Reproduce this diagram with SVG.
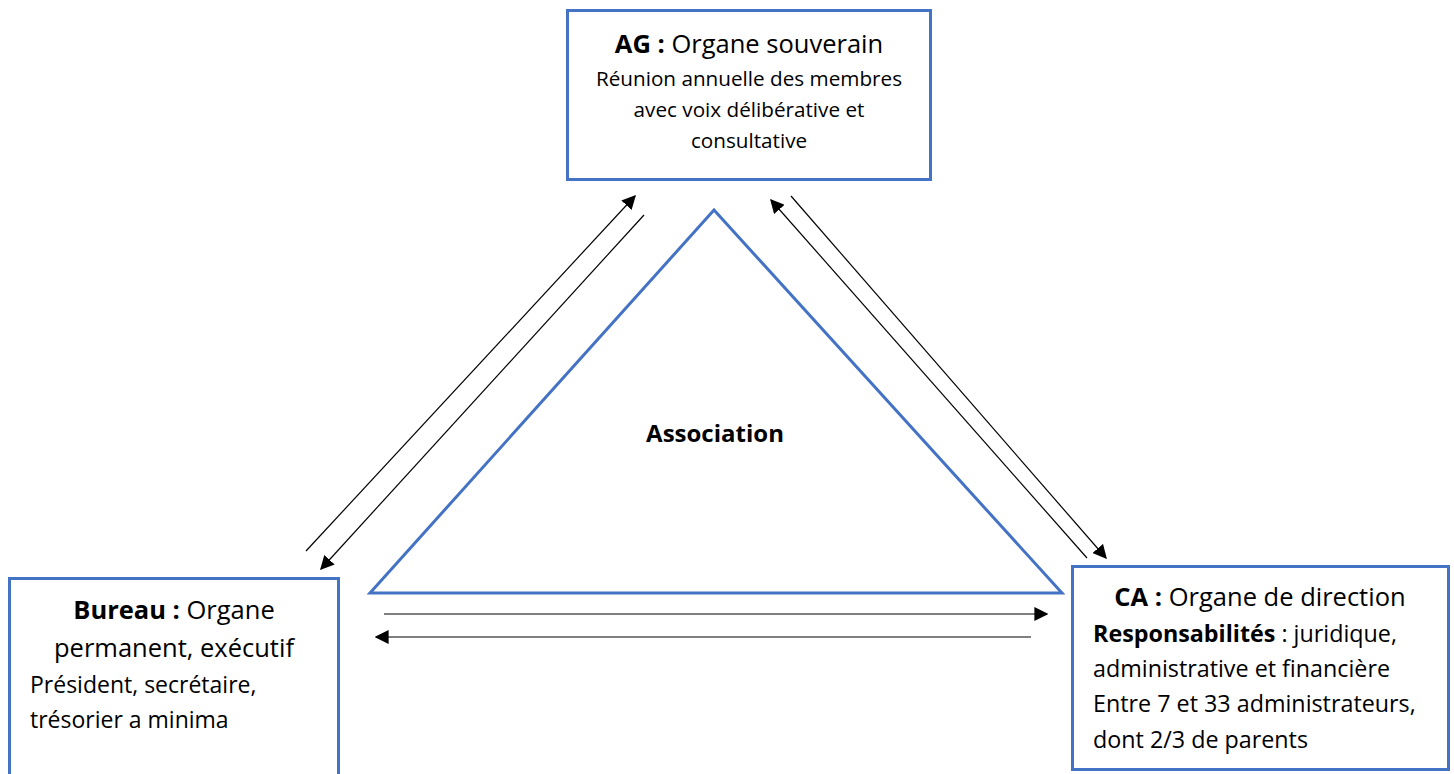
<svg xmlns="http://www.w3.org/2000/svg" width="1454" height="774" viewBox="0 0 1454 774">
<defs>
<style>
.box{fill:#fff;stroke:#4472C4;stroke-width:3}
.tri{fill:none;stroke:#4472C4;stroke-width:3}
.t{font-family:"Open Sans","Noto Sans","Liberation Sans",sans-serif;fill:#000}
.big{font-size:25.5px}
.sm{font-size:20.7px}
.b{font-weight:bold}
.c{stroke:#000;stroke-width:1.2;fill:none;marker-end:url(#ah)}
</style>
<marker id="ah" viewBox="0 0 10 10" refX="9" refY="5" markerWidth="14" markerHeight="14" markerUnits="userSpaceOnUse" orient="auto">
<path d="M0,0 L10,5 L0,10 z" fill="#000"/>
</marker>
</defs>
<rect width="1454" height="774" fill="#fff"/>
<g id="association">
<polygon class="tri" points="714,210 370,593 1062,593"/>
<text class="t b" x="715" y="442" font-size="24" text-anchor="middle">Association</text>
</g>
<g id="ag">
<rect class="box" x="567.5" y="10.5" width="363" height="169"/>
<text class="t big" x="749" y="53" text-anchor="middle"><tspan class="b">AG :</tspan> Organe souverain</text>
<text class="t sm" x="749" y="86" text-anchor="middle">Réunion annuelle des membres</text>
<text class="t sm" x="749" y="117" text-anchor="middle">avec voix délibérative et</text>
<text class="t sm" x="749" y="148" text-anchor="middle">consultative</text>
</g>
<g id="bureau">
<rect class="box" x="9.5" y="578.5" width="329" height="210"/>
<text class="t big" x="174" y="619" text-anchor="middle"><tspan class="b">Bureau :</tspan> Organe</text>
<text class="t big" x="174" y="657" text-anchor="middle">permanent, exécutif</text>
<text class="t" font-size="23" x="30" y="693">Président, secrétaire,</text>
<text class="t" font-size="23" x="30" y="728">trésorier a minima</text>
</g>
<g id="ca">
<rect class="box" x="1072.5" y="566.5" width="376" height="203"/>
<text class="t big" x="1260" y="606" text-anchor="middle"><tspan class="b">CA :</tspan> Organe de direction</text>
<text class="t" font-size="23.3" x="1093" y="642"><tspan class="b">Responsabilités</tspan> : juridique,</text>
<text class="t" font-size="23.3" x="1093" y="677">administrative et financière</text>
<text class="t" font-size="23.3" x="1093" y="712">Entre 7 et 33 administrateurs,</text>
<text class="t" font-size="23.3" x="1093" y="748">dont 2/3 de parents</text>
</g>
<g id="connectors">
<line class="c" x1="306" y1="551" x2="635" y2="196"/>
<line class="c" x1="644" y1="215" x2="321" y2="569"/>
<line class="c" x1="1087" y1="558" x2="771" y2="200"/>
<line class="c" x1="791" y1="196" x2="1106" y2="558"/>
<line class="c" x1="384" y1="614" x2="1047" y2="614"/>
<line class="c" x1="1031" y1="637" x2="376" y2="637"/>
</g>
</svg>
